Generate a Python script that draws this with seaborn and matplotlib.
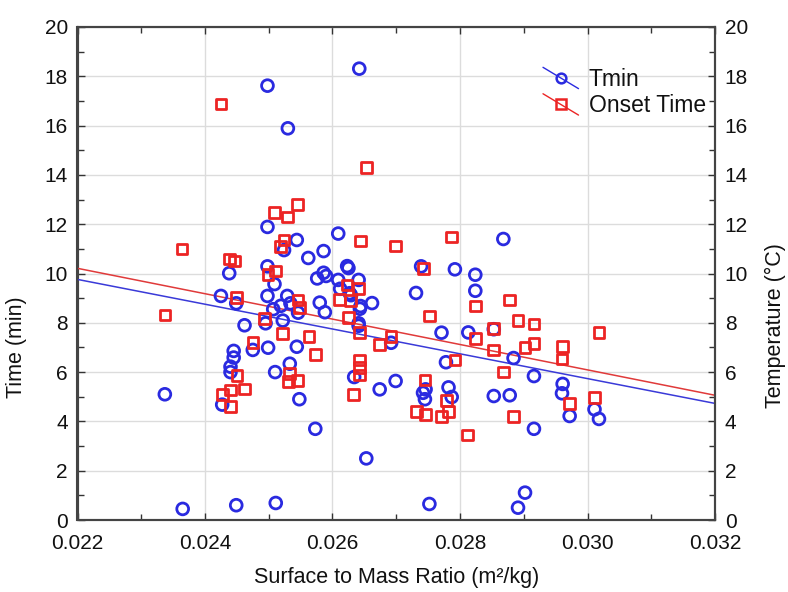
import numpy as np
import pandas as pd
import matplotlib
matplotlib.use("Agg")
import matplotlib.pyplot as plt
import seaborn as sns
from matplotlib.lines import Line2D
from matplotlib.legend_handler import HandlerBase
from matplotlib.ticker import MultipleLocator, FormatStrFormatter

# ---------------- data ----------------
tmin_x = [0.02498, 0.02530, 0.02498, 0.02544, 0.02524, 0.02562, 0.02438, 0.02498, 0.02642, 0.02609,
          0.02868, 0.02586, 0.02623, 0.02625, 0.02739, 0.02792, 0.02824, 0.02509, 0.02576, 0.02586,
          0.02590, 0.02425, 0.02449, 0.02498, 0.02529, 0.02519, 0.02534, 0.02507, 0.02580, 0.02588,
          0.02546, 0.02462, 0.02495, 0.02522, 0.02475, 0.02499, 0.02544, 0.02445, 0.02445, 0.02440,
          0.02440, 0.02510, 0.02533, 0.02427, 0.02548, 0.02573, 0.02337, 0.02365, 0.02449, 0.02511,
          0.02609, 0.02641, 0.02612, 0.02627, 0.02629, 0.02662, 0.02644, 0.02643, 0.02731, 0.02641,
          0.02641, 0.02771, 0.02692, 0.02778, 0.02634, 0.02699, 0.02674, 0.02746, 0.02742, 0.02745,
          0.02782, 0.02787, 0.02653, 0.02752, 0.02902, 0.02891, 0.02813, 0.02824, 0.02853, 0.02884,
          0.02916, 0.02853, 0.02878, 0.02916, 0.02961, 0.02960, 0.02972, 0.03011, 0.03018]
tmin_y = [17.62, 15.89, 11.89, 11.36, 10.95, 10.63, 10.01, 10.29, 18.31, 11.62,
          11.40, 10.91, 10.30, 10.22, 10.29, 10.17, 9.95, 9.57, 9.80, 10.03,
          9.90, 9.09, 8.79, 9.09, 9.09, 8.69, 8.79, 8.55, 8.82, 8.43,
          8.41, 7.90, 7.98, 8.09, 6.90, 6.99, 7.03, 6.86, 6.59, 6.22,
          6.00, 6.00, 6.34, 4.68, 4.90, 3.70, 5.10, 0.45, 0.60, 0.69,
          9.74, 9.74, 9.38, 9.20, 9.12, 8.80, 8.68, 8.57, 9.21, 7.98,
          7.88, 7.60, 7.19, 6.40, 5.80, 5.64, 5.30, 5.30, 5.16, 4.90,
          5.38, 4.99, 2.50, 0.65, 1.11, 0.50, 7.61, 9.30, 7.74, 6.57,
          5.84, 5.03, 5.06, 3.70, 5.52, 5.14, 4.22, 4.49, 4.10]

onset_x = [0.02425, 0.02545, 0.02509, 0.02529, 0.02524, 0.02518, 0.02364, 0.02438, 0.02446, 0.02499,
           0.02511, 0.02653, 0.02644, 0.02699, 0.02787, 0.02743, 0.02449, 0.02546, 0.02548, 0.02493,
           0.02522, 0.02563, 0.02573, 0.02475, 0.02450, 0.02533, 0.02531, 0.02545, 0.02462, 0.02440,
           0.02427, 0.02440, 0.02337, 0.02623, 0.02641, 0.02611, 0.02628, 0.02625, 0.02752, 0.02642,
           0.02692, 0.02674, 0.02642, 0.02642, 0.02642, 0.02633, 0.02745, 0.02779, 0.02732, 0.02746,
           0.02771, 0.02782, 0.02824, 0.02824, 0.02878, 0.02891, 0.02916, 0.02916, 0.02902, 0.02853,
           0.02853, 0.02792, 0.02868, 0.02884, 0.02812, 0.02961, 0.02960, 0.02972, 0.03018, 0.03011]
onset_y = [16.88, 12.81, 12.47, 12.30, 11.36, 11.09, 10.99, 10.58, 10.51, 9.97,
           10.10, 14.29, 11.32, 11.12, 11.48, 10.21, 9.02, 8.92, 8.63, 8.18,
           7.57, 7.44, 6.72, 7.19, 5.87, 5.94, 5.61, 5.65, 5.31, 5.27,
           5.10, 4.60, 8.32, 9.53, 9.38, 8.95, 8.90, 8.22, 8.28, 7.60,
           7.44, 7.11, 6.49, 6.19, 5.88, 5.10, 5.68, 4.84, 4.39, 4.27,
           4.19, 4.39, 8.69, 7.37, 8.92, 8.10, 7.95, 7.17, 6.99, 7.76,
           6.90, 6.49, 6.00, 4.19, 3.45, 7.05, 6.54, 4.73, 7.60, 4.98]

fit_x = [0.022, 0.032]
tmin_fit = [9.76, 4.73]
onset_fit = [10.21, 5.06]

series_names = ["Tmin", "Onset Time"]
x_label = "Surface to Mass Ratio (m²/kg)"
y_label = "Time (min)"
y2_label = "Temperature (°C)"

# ---------------- style ----------------
sns.set_theme(style="white")
plt.rcParams["font.family"] = ["Liberation Sans", "DejaVu Sans"]
plt.rcParams["text.color"] = "#111111"
plt.rcParams["axes.labelcolor"] = "#111111"
plt.rcParams["xtick.color"] = "#333333"
plt.rcParams["ytick.color"] = "#333333"
plt.rcParams["xtick.labelcolor"] = "#111111"
plt.rcParams["ytick.labelcolor"] = "#111111"

BLUE = "#2a2ae0"
RED = "#ec2424"
BLUE_L = "#3a3ad8"
RED_L = "#e03a3a"

fig = plt.figure(figsize=(7.88, 5.92), dpi=100)
ax = fig.add_axes([77.5 / 788, 1 - 520 / 592, (715 - 77.5) / 788, (520 - 27) / 592])

df_t = pd.DataFrame({"x": tmin_x, "y": tmin_y})
df_o = pd.DataFrame({"x": onset_x, "y": onset_y})
df_ft = pd.DataFrame({"x": fit_x, "y": tmin_fit})
df_fo = pd.DataFrame({"x": fit_x, "y": onset_fit})

sns.lineplot(data=df_ft, x="x", y="y", ax=ax, color=BLUE_L, lw=1.1, zorder=3)
sns.lineplot(data=df_fo, x="x", y="y", ax=ax, color=RED_L, lw=1.1, zorder=3)
sns.scatterplot(data=df_t, x="x", y="y", ax=ax, marker="o", s=72,
                facecolor="none", edgecolor=BLUE, linewidth=2.0, zorder=4)
sns.scatterplot(data=df_o, x="x", y="y", ax=ax, marker="s", s=58,
                facecolor="none", edgecolor=RED, linewidth=2.0, zorder=4)

ax.set_xlim(0.022, 0.032)
ax.set_ylim(0, 20)
ax.xaxis.set_major_locator(MultipleLocator(0.002))
ax.xaxis.set_minor_locator(MultipleLocator(0.001))
ax.xaxis.set_major_formatter(FormatStrFormatter("%.3f"))
ax.yaxis.set_major_locator(MultipleLocator(2))
ax.yaxis.set_minor_locator(MultipleLocator(1))
ax.grid(True, which="major", color="#dcdcdc", lw=1.0, zorder=0)
ax.set_axisbelow(True)

ax.set_xlabel(x_label, fontsize=15.5)
ax.set_ylabel(y_label, fontsize=15.5)
ax.xaxis.set_label_coords(0.5, -0.096)
ax.yaxis.set_label_coords(-0.079, 0.35)

ax.tick_params(axis="both", which="both", direction="in", top=True, right=False,
               bottom=True, left=True, labelsize=15)
ax.tick_params(axis="both", which="major", length=5, width=1)
ax.tick_params(axis="y", which="major", pad=7)
ax.tick_params(axis="x", which="major", pad=10)
ax.tick_params(axis="both", which="minor", length=4, width=1)
for sp in ax.spines.values():
    sp.set_color("#444444")
    sp.set_linewidth(1.5)
    sp.set_visible(True)

ax2 = ax.twinx()
ax2.set_ylim(0, 20)
ax2.yaxis.set_major_locator(MultipleLocator(2))
ax2.yaxis.set_minor_locator(MultipleLocator(1))
ax2.tick_params(axis="y", which="both", direction="in", labelsize=15)
ax2.tick_params(axis="y", which="major", length=5, width=1, pad=7)
ax2.tick_params(axis="y", which="minor", length=4, width=1)
ax2.set_ylabel(y2_label, fontsize=15.5)
ax2.yaxis.set_label_coords(1.079, 0.395)
ax2.grid(False)
for sp in ax2.spines.values():
    sp.set_color("#444444")
    sp.set_linewidth(1.5)


class DiagHandler(HandlerBase):
    def create_artists(self, legend, orig_handle, xdescent, ydescent,
                       width, height, fontsize, trans):
        c = orig_handle.get_color()
        x0, x1 = -xdescent, -xdescent + width
        yc = -ydescent + height / 2
        dy = width * 0.3
        line = Line2D([x0, x1], [yc + dy, yc - dy], color=c, lw=1.0, transform=trans)
        mk = Line2D([(x0 + x1) / 2], [yc], marker=orig_handle.get_marker(), ls="none",
                    mfc="none", mec=c, mew=1.8, ms=7, transform=trans)
        return [line, mk]


handles = [Line2D([], [], color=BLUE, marker="o"), Line2D([], [], color=RED, marker="s")]
leg = ax.legend(handles, series_names, handler_map={Line2D: DiagHandler()},
                loc="upper left", bbox_to_anchor=(543 / 788, 1 - 68 / 592),
                bbox_transform=fig.transFigure, frameon=False, fontsize=16.5,
                handlelength=1.55, handletextpad=0.45, labelspacing=0.15,
                borderpad=0, borderaxespad=0)
leg.set_zorder(10)

fig.savefig("out.png", dpi=100)
